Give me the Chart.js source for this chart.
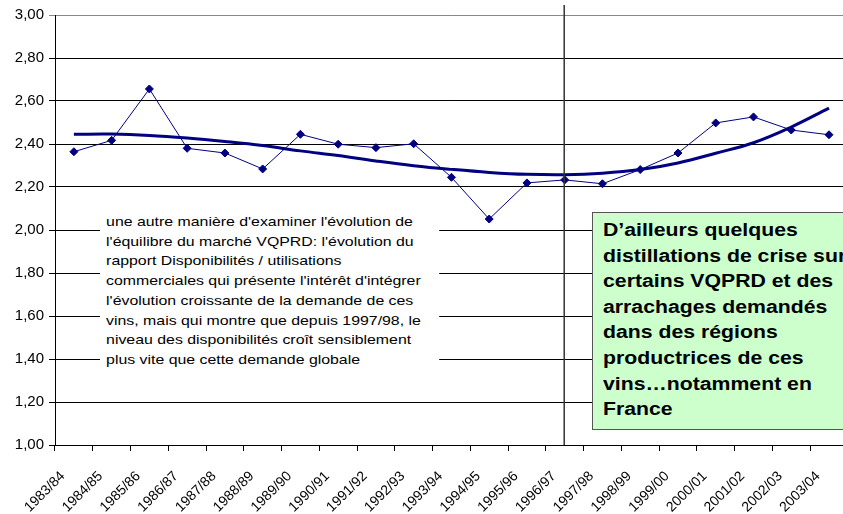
<!DOCTYPE html>
<html>
<head>
<meta charset="utf-8">
<script src="https://cdn.jsdelivr.net/npm/chart.js@4"></script>
<style>
  html, body { margin: 0; padding: 0; overflow: hidden; background: #fff; }
  #wrap { position: relative; width: 858px; height: 514px; }
  .note {
    position: absolute; left: 100px; top: 205px; width: 267px;
    padding: 7px 6px 7px 5px; background: #fff;
    font: 13px Arial, "Liberation Sans", sans-serif; line-height: 19.7px; color: #000;
    white-space: nowrap; transform: scaleX(1.22); transform-origin: left top;
  }
  .box {
    position: absolute; left: 592px; top: 212px; width: 300px; height: 211px;
    padding: 5px 0 0 10px; background: #ccffcc; border: 1.5px solid #555;
    font: bold 18px Arial, "Liberation Sans", sans-serif; line-height: 25.6px; color: #000;
    white-space: nowrap;
  }
  .box span { display: inline-block; transform: scaleX(1.18); transform-origin: left top; }
</style>
</head>
<body>
<div id="wrap">
  <canvas id="graph" width="858" height="514"></canvas>
  <div class="note">une autre manière d'examiner l'évolution de<br>l'équilibre du marché VQPRD: l'évolution du<br>rapport Disponibilités / utilisations<br>commerciales qui présente l'intérêt d'intégrer<br>l'évolution croissante de la demande de ces<br>vins, mais qui montre que depuis 1997/98, le<br>niveau des disponibilités croît sensiblement<br>plus vite que cette demande globale</div>
  <div class="box"><span>D’ailleurs quelques<br>distillations de crise sur<br>certains VQPRD et des<br>arrachages demandés<br>dans des régions<br>productrices de ces<br>vins…notamment en<br>France</span></div>
</div>
<script>
// Campaign years on the x axis
const seasons = ['1983/84', '1984/85', '1985/86', '1986/87', '1987/88', '1988/89', '1989/90',
  '1990/91', '1991/92', '1992/93', '1993/94', '1994/95', '1995/96', '1996/97', '1997/98',
  '1998/99', '1999/00', '2000/01', '2001/02', '2002/03', '2003/04'];

// ratio disponibilités / utilisations commerciales
const ratio = [2.364, 2.417, 2.656, 2.380, 2.358, 2.284, 2.445, 2.399, 2.383, 2.401, 2.245,
  2.051, 2.219, 2.233, 2.215, 2.281, 2.358, 2.498, 2.526, 2.465, 2.443];

// trend curve
const trend = [2.445, 2.446, 2.440, 2.428, 2.412, 2.393, 2.368, 2.346, 2.321, 2.299, 2.282,
  2.268, 2.259, 2.257, 2.264, 2.281, 2.312, 2.357, 2.406, 2.479, 2.567];

// marker line at 1996/97
const markerIndex = 13;

const navy = '#000080';

const markerLine = {
  id: 'markerLine',
  afterDatasetsDraw(chart) {
    const ctx = chart.ctx;
    const x = chart.scales.x.getPixelForValue(markerIndex) - 0.5;
    ctx.save();
    ctx.strokeStyle = '#333';
    ctx.lineWidth = 1.5;
    ctx.beginPath();
    ctx.moveTo(x, 5);
    ctx.lineTo(x, chart.chartArea.bottom);
    ctx.stroke();
    ctx.restore();
  }
};

const ctx = document.getElementById('graph').getContext('2d');
new Chart(ctx, {
  type: 'line',
  data: {
    labels: seasons,
    datasets: [
      {
        data: ratio,
        borderColor: navy,
        backgroundColor: navy,
        borderWidth: 1,
        pointStyle: 'rectRot',
        pointRadius: 4,
        tension: 0
      },
      {
        data: trend,
        borderColor: navy,
        borderWidth: 3,
        pointRadius: 0,
        tension: 0.4
      }
    ]
  },
  options: {
    responsive: false,
    animation: false,
    layout: { padding: { top: 15, right: 0, left: 0, bottom: 0 } },
    plugins: { legend: { display: false }, tooltip: { enabled: false } },
    scales: {
      x: {
        offset: true,
        grid: { offset: true, drawOnChartArea: false, color: '#000', tickLength: 6 },
        border: { color: '#000' },
        ticks: {
          autoSkip: false, minRotation: 45, maxRotation: 45, padding: 17, labelOffset: -11,
          color: '#000',
          font: { family: 'Arial, "Liberation Sans"', size: 14 }
        },
        afterFit(scale) { scale.height = 69; }
      },
      y: {
        min: 1,
        max: 3,
        grid: {
          color: c => (c.tick && c.tick.value === 3 ? '#888' : '#000'),
          tickLength: 6
        },
        border: { color: '#000' },
        ticks: {
          stepSize: 0.2, padding: 5, color: '#000',
          font: { family: 'Arial, "Liberation Sans"', size: 15 },
          callback: v => v.toFixed(2).replace('.', ',')
        },
        afterFit(scale) { scale.width = 55; }
      }
    }
  },
  plugins: [markerLine]
});
</script>
</body>
</html>
